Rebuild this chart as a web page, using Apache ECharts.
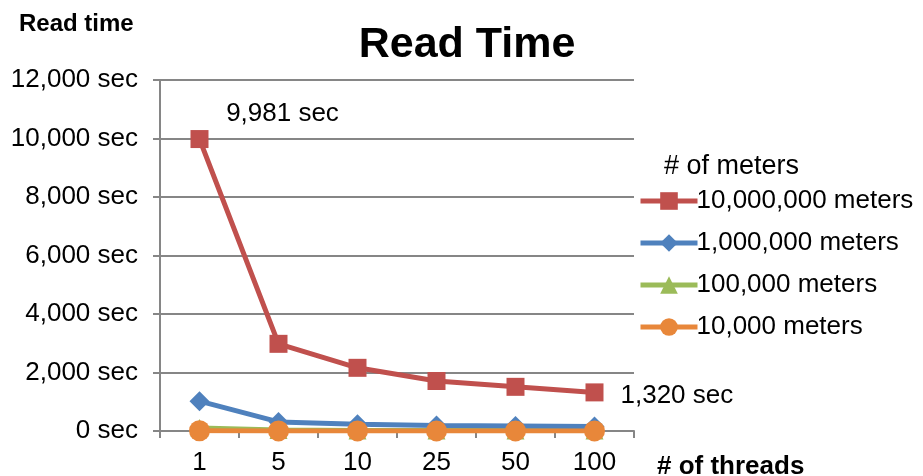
<!DOCTYPE html>
<html>
<head>
<meta charset="utf-8">
<script src="https://cdn.jsdelivr.net/npm/echarts@6/dist/echarts.min.js"></script>
<style>
  html, body { margin: 0; padding: 0; background: #fff; }
  #chart { width: 923px; height: 476px; }
</style>
</head>
<body>
<div id="chart"></div>
<script>
// Thread counts along the x axis
const threads = ['1', '5', '10', '25', '50', '100'];

// Read time in seconds for each data-set size
const read10M = [9981, 2980, 2160, 1710, 1510, 1320];
const read1M = [1020, 310, 230, 190, 170, 150];
const read100K = [100, 30, 20, 18, 16, 14];
const read10K = [10, 4, 3, 3, 2, 2];

const seriesNames = ['10,000,000 meters', '1,000,000 meters', '100,000 meters', '10,000 meters'];
const FONT = 'Liberation Sans, Arial, sans-serif';

const chart = echarts.init(document.getElementById('chart'), null, { renderer: 'canvas' });

function fmt(v) {
  return v.toLocaleString('en-US') + ' sec';
}

const option = {
  animation: false,
  backgroundColor: '#ffffff',
  textStyle: { fontFamily: FONT },
  title: [
    {
      text: 'Read Time', left: 462, top: 19, textAlign: 'center',
      textStyle: { fontFamily: FONT, fontSize: 43, fontWeight: 'bold', color: '#000' }
    },
    {
      text: 'Read time', left: 14, top: 7,
      textStyle: { fontFamily: FONT, fontSize: 24, fontWeight: 'bold', color: '#000' }
    },
    {
      text: '# of threads', left: 652, top: 449,
      textStyle: { fontFamily: FONT, fontSize: 26, fontWeight: 'bold', color: '#000' }
    },
    {
      text: '# of meters', left: 659, top: 148,
      textStyle: { fontFamily: FONT, fontSize: 27, fontWeight: 'normal', color: '#000' }
    }
  ],
  legend: {
    orient: 'vertical',
    left: 633,
    top: 183,
    itemWidth: 57,
    itemHeight: 22,
    itemGap: 16,
    data: seriesNames,
    lineStyle: { width: 5 },
    textStyle: { fontFamily: FONT, fontSize: 26, color: '#000', padding: [0, 0, 0, -6] }
  },
  grid: { left: 160, top: 80, width: 474, height: 351, containLabel: false },
  xAxis: {
    type: 'category',
    data: threads,
    boundaryGap: true,
    axisLine: { lineStyle: { color: '#868686', width: 2 } },
    axisTick: { show: true, length: 7, lineStyle: { color: '#868686', width: 2 } },
    axisLabel: { fontFamily: FONT, fontSize: 26, color: '#000', margin: 19 }
  },
  yAxis: {
    type: 'value',
    min: 0,
    max: 12000,
    interval: 2000,
    axisLine: { show: true, lineStyle: { color: '#868686', width: 2 } },
    axisTick: { show: true, length: 7, lineStyle: { color: '#868686', width: 2 } },
    splitLine: { lineStyle: { color: '#868686', width: 2 } },
    axisLabel: {
      fontFamily: FONT, fontSize: 26, color: '#000', margin: 22,
      formatter: v => fmt(v)
    }
  },
  series: [
    {
      name: seriesNames[0], type: 'line', z: 5,
      symbol: 'rect', symbolSize: 18,
      color: '#C0504D',
      lineStyle: { width: 5, color: '#C0504D' },
      itemStyle: { color: '#C0504D' },
      label: {
        show: true, fontFamily: FONT, fontSize: 26, color: '#000',
        formatter: p => (p.dataIndex === 0 || p.dataIndex === read10M.length - 1) ? fmt(p.value) : ''
      },
      emphasis: { disabled: true }
    },
    {
      name: seriesNames[1], type: 'line', data: read1M, z: 4,
      symbol: 'diamond', symbolSize: 20,
      color: '#4F81BD',
      lineStyle: { width: 5, color: '#4F81BD' },
      itemStyle: { color: '#4F81BD' },
      emphasis: { disabled: true }
    },
    {
      name: seriesNames[2], type: 'line', data: read100K, z: 3,
      symbol: 'triangle', symbolSize: 18,
      color: '#9BBB59',
      lineStyle: { width: 5, color: '#9BBB59' },
      itemStyle: { color: '#9BBB59' },
      emphasis: { disabled: true }
    },
    {
      name: seriesNames[3], type: 'line', data: read10K, z: 6,
      symbol: 'circle', symbolSize: 21,
      color: '#E8873A',
      lineStyle: { width: 5, color: '#E8873A' },
      itemStyle: { color: '#E8873A' },
      emphasis: { disabled: true }
    }
  ]
};

// Place the two value callouts on the 10M series individually
option.series[0].data = read10M.map((v, i) => {
  if (i === 0) return { value: v, label: { position: 'top', offset: [83, 2] } };
  if (i === read10M.length - 1) return { value: v, label: { position: 'right', distance: 17, offset: [0, 3] } };
  return v;
});

chart.setOption(option);
</script>
</body>
</html>
